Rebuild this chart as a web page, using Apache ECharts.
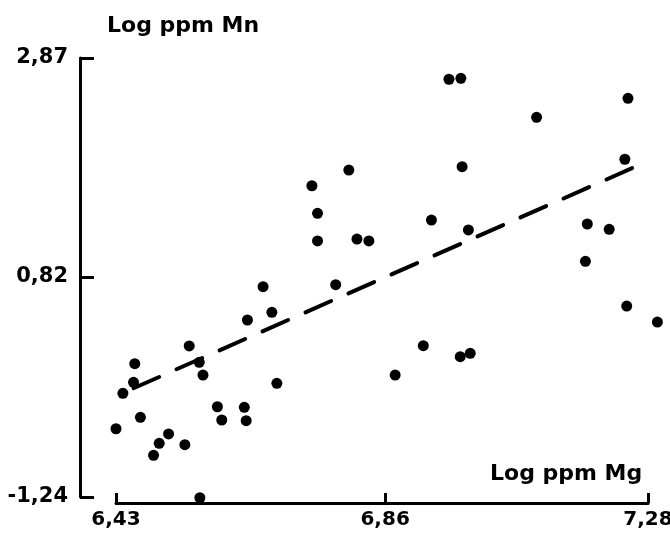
<!DOCTYPE html>
<html>
<head>
<meta charset="utf-8">
<script src="https://cdn.jsdelivr.net/npm/echarts@6/dist/echarts.min.js"></script>
<style>html,body{margin:0;padding:0;background:#fff}#c{width:670px;height:533px}</style>
</head>
<body>
<div id="c"></div>
<script>
// Log ppm Mg (x) and Log ppm Mn (y) for each sample
const mg = [6.665, 6.679, 6.640, 6.547, 6.460, 6.563, 6.458, 6.441, 6.569, 6.687,
            6.592, 6.599, 6.635, 6.638, 6.469, 6.430, 6.514, 6.499, 6.490, 6.540,
            6.564, 6.802, 6.743, 6.752, 6.752, 6.815, 6.834, 6.781, 6.934, 6.983,
            6.993, 6.921, 6.876, 6.980, 6.996, 6.962, 6.981, 7.102, 7.248, 7.243,
            7.183, 7.218, 7.180, 7.246, 7.295];
const mn = [0.729, 0.489, 0.417, 0.174, 0.008, 0.021, -0.166, -0.269, -0.098, -0.176,
            -0.395, -0.519, -0.400, -0.526, -0.494, -0.601, -0.650, -0.737, -0.850, -0.750,
            -1.247, 1.821, 1.674, 1.416, 1.157, 1.175, 1.157, 0.748, 1.353, 1.852,
            1.260, 0.177, -0.098, 0.074, 0.105, 2.671, 2.680, 2.315, 2.493, 1.922,
            1.316, 1.266, 0.967, 0.548, 0.398];
// regression line end points
const trendX = [6.458, 7.278];
const trendY = [-0.222, 1.899];
// axes
const xTicks = [6.43, 6.86, 7.28];
const xTickLabels = ['6,43', '6,86', '7,28'];
const yTicks = [-1.24, 0.82, 2.87];
const yTickLabels = ['-1,24', '0,82', '2,87'];
const xName = 'Log ppm Mg';
const yName = 'Log ppm Mn';

const points = mg.map((x, i) => [x, mn[i]]);
const trend = trendX.map((x, i) => [x, trendY[i]]);
const FONT = 'DejaVu Sans';
const lbl = (vals, labs) => v => { const i = vals.findIndex(t => Math.abs(t - v) < 1e-6); return i >= 0 ? labs[i] : ''; };

const chart = echarts.init(document.getElementById('c'));
chart.setOption({
  animation: false,
  backgroundColor: '#fff',
  grid: {left: 116, right: 22, top: 58, bottom: 36, containLabel: false, outerBoundsMode: 'none'},
  xAxis: {
    type: 'value', min: 6.43, max: 7.28, offset: 6,
    splitLine: {show: false},
    axisLine: {onZero: false, lineStyle: {color: '#000', width: 3}},
    axisTick: {inside: true, length: 10, lineStyle: {color: '#000', width: 3}, customValues: xTicks},
    axisLabel: {customValues: xTicks, formatter: lbl(xTicks, xTickLabels), color: '#000',
                fontFamily: FONT, fontWeight: 'bold', fontSize: 20, margin: 7},
    name: xName, nameLocation: 'end', nameGap: -158,
    nameTextStyle: {align: 'left', verticalAlign: 'bottom', padding: [0, 0, 18, 0], color: '#000',
                    fontFamily: FONT, fontWeight: 'bold', fontSize: 22}
  },
  yAxis: {
    type: 'value', min: -1.24, max: 2.87, offset: 36,
    splitLine: {show: false},
    axisLine: {onZero: false, lineStyle: {color: '#000', width: 3}},
    axisTick: {inside: true, length: 14, lineStyle: {color: '#000', width: 3}, customValues: yTicks},
    axisLabel: {customValues: yTicks, formatter: lbl(yTicks, yTickLabels), color: '#000',
                fontFamily: FONT, fontWeight: 'bold', fontSize: 21, margin: 12},
    name: yName, nameLocation: 'end', nameGap: 32,
    nameTextStyle: {align: 'left', verticalAlign: 'middle', padding: [0, 0, 0, 27], color: '#000',
                    fontFamily: FONT, fontWeight: 'bold', fontSize: 22}
  },
  series: [
    {type: 'scatter', data: points, symbol: 'circle', symbolSize: 11, clip: false,
     itemStyle: {color: '#000', opacity: 1}},
    {type: 'line', data: trend, symbol: 'none', clip: false,
     lineStyle: {color: '#000', width: 4, type: [28, 19], cap: 'round', opacity: 1}}
  ]
});
</script>
</body>
</html>
